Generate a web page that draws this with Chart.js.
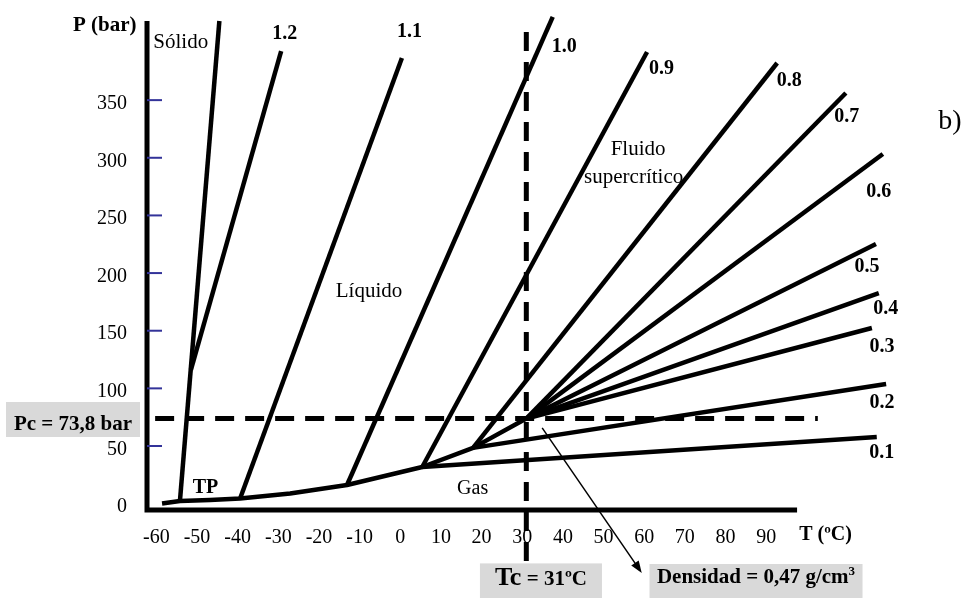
<!DOCTYPE html>
<html>
<head>
<meta charset="utf-8">
<script src="https://cdn.jsdelivr.net/npm/chart.js@4.4.1/dist/chart.umd.min.js"></script>
<style>
  html, body { margin: 0; padding: 0; background: #fff; overflow: hidden; }
  #wrap { position: relative; width: 966px; height: 598px; }
</style>
</head>
<body>
<div id="wrap"><canvas id="phaseChart"></canvas></div>
<script>
// axis ticks
const tempTicks = [-60, -50, -40, -30, -20, -10, 0, 10, 20, 30, 40, 50, 60, 70, 80, 90];
const pressureTicks = [0, 50, 100, 150, 200, 250, 300, 350];

// critical point of CO2
const tc = 31; // ºC
const pc = 73.8; // bar

// vapour pressure curve (sublimation -> triple point -> critical point)
const vapourT = [-58.6, -54.2, -46.8, -39.4, -27.1, -13.1, 5.4, 17.9, tc];
const vapourP = [0.2, 2.3, 3.2, 4.5, 8.8, 16.2, 31.8, 48.4, pc];

// melting curve
const meltT = [-54.2, -44.5];
const meltP = [2.3, 418.6];

// isochores, density in g/cm3, start and end of each line
const densities = ["1.2", "1.1", "1.0", "0.9", "0.8", "0.7", "0.6", "0.5", "0.4", "0.3", "0.2", "0.1"];
const isoFromT = [-51.5, -39.4, -13.1, 5.4, 17.9, tc, tc, tc, tc, tc, 17.9, 5.4];
const isoFromP = [116.0, 4.5, 16.2, 31.8, 48.4, pc, pc, pc, pc, pc, 48.4, 31.8];
const isoToT = [-29.3, 0.4, 37.5, 60.7, 92.7, 109.6, 118.7, 117.0, 117.7, 116.0, 119.5, 117.2];
const isoToP = [392.6, 386.6, 422.2, 391.7, 382.2, 356.2, 303.3, 225.2, 182.7, 152.4, 103.8, 57.8];

// extent of the dashed Tc / Pc guides
const tcLineP = [409, -56];
const pcLineT = [-60.3, 102.7];

// where the drawn axes stop
const xAxisEnd = 97.6;
const yAxisTop = 418.6;

// label offsets (px) from the end of each isochore
const isoLabelOffset = [[3.5, -17.5], [7.5, -26], [11.5, 30], [14.5, 17], [12, 18], [1, 24],
  [-4, 38], [-9, 23], [7, 16], [10, 19], [-4, 18.5], [5, 16]];

const SERIF = "'Liberation Serif', 'Times New Roman', serif";

const regionLabels = [
  { text: "P (bar)", t: -72.7, p: 415.0, font: "bold 21px " + SERIF },
  { text: "Sólido", t: -54.0, p: 400.4, font: "21px " + SERIF },
  { text: "Líquido", t: -7.7, p: 183.7, font: "21px " + SERIF },
  { text: "Fluido", t: 58.5, p: 307.6, font: "21px " + SERIF },
  { text: "supercrítico", t: 57.4, p: 283.2, font: "21px " + SERIF },
  { text: "Gas", t: 17.8, p: 12.7, font: "20px " + SERIF },
  { text: "TP", t: -47.9, p: 13.6, font: "bold 20px " + SERIF },
  { text: "T (ºC)", t: 104.6, p: -27.1, font: "bold 20px " + SERIF },
  { text: "b)", t: 135.2, p: 331.0, font: "28px " + SERIF },
];

// grey boxes: anchor = centre of the text baseline
const boxes = [
  { t: -80.5, p: 63.9, w: 134, up: 28, down: 7, parts: [["Pc = 73,8 bar", "bold 21px " + SERIF, 0]] },
  { t: 34.6, p: -70.9, w: 122, up: 22, down: 13, parts: [["Tc", "bold 26px " + SERIF, 0], [" = 31ºC", "bold 21px " + SERIF, 0]] },
  { t: 87.5, p: -68.8, w: 213, up: 19, down: 15, parts: [["Densidad = 0,47 g/cm", "bold 21px " + SERIF, 0], ["3", "bold 13px " + SERIF, -8]] },
];

const arrow = { fromT: 34.9, fromP: 65.7, toT: 59.4, toP: -60.1 };

function pts(ts, ps) {
  return ts.map((t, i) => ({ x: t, y: ps[i] }));
}

const solid = {
  showLine: true,
  borderColor: "#000",
  borderWidth: 4.5,
  pointRadius: 0,
  borderJoinStyle: "round",
  tension: 0,
};
const dashed = { ...solid, borderWidth: 5, borderDash: [19, 11] };

const datasets = [
  { ...solid, data: pts(vapourT, vapourP) },
  { ...solid, data: pts(meltT, meltP) },
  ...densities.map((d, i) => ({
    ...solid,
    label: d,
    data: pts([isoFromT[i], isoToT[i]], [isoFromP[i], isoToP[i]]),
  })),
  { ...dashed, data: tcLineP.map((p) => ({ x: tc, y: p })), clip: false },
  { ...dashed, data: pcLineT.map((t) => ({ x: t, y: pc })) },
];

const decor = {
  id: "decor",
  beforeDatasetsDraw(chart) {
    const ctx = chart.ctx;
    const xs = chart.scales.x;
    const ys = chart.scales.y;
    ctx.save();
    // boxes under the dashed lines
    ctx.fillStyle = "#d9d9d9";
    boxes.forEach((b) => {
      const cx = xs.getPixelForValue(b.t);
      const cy = ys.getPixelForValue(b.p);
      ctx.fillRect(cx - b.w / 2, cy - b.up, b.w, b.up + b.down);
    });
    // axes
    const x0 = xs.getPixelForValue(xs.min);
    const y0 = ys.getPixelForValue(ys.min);
    ctx.strokeStyle = "#000";
    ctx.lineWidth = 5;
    ctx.beginPath();
    ctx.moveTo(x0, ys.getPixelForValue(yAxisTop));
    ctx.lineTo(x0, y0);
    ctx.lineTo(xs.getPixelForValue(xAxisEnd), y0);
    ctx.stroke();
    // blue tick marks inside the y axis
    ctx.strokeStyle = "#333399";
    ctx.lineWidth = 2;
    pressureTicks.filter((v) => v > 0).forEach((v) => {
      const y = ys.getPixelForValue(v);
      ctx.beginPath();
      ctx.moveTo(x0, y);
      ctx.lineTo(x0 + 15, y);
      ctx.stroke();
    });
    ctx.restore();
  },
  afterDatasetsDraw(chart) {
    const ctx = chart.ctx;
    const xs = chart.scales.x;
    const ys = chart.scales.y;
    ctx.save();
    ctx.fillStyle = "#000";
    ctx.textBaseline = "middle";
    ctx.textAlign = "center";

    // isochore labels
    ctx.font = "bold 20px " + SERIF;
    densities.forEach((d, i) => {
      const x = xs.getPixelForValue(isoToT[i]) + isoLabelOffset[i][0];
      const y = ys.getPixelForValue(isoToP[i]) + isoLabelOffset[i][1];
      ctx.fillText(d, x, y);
    });

    // region and axis labels
    regionLabels.forEach((l) => {
      ctx.font = l.font;
      ctx.fillText(l.text, xs.getPixelForValue(l.t), ys.getPixelForValue(l.p));
    });

    // box texts
    ctx.textAlign = "left";
    ctx.textBaseline = "alphabetic";
    boxes.forEach((b) => {
      let total = 0;
      b.parts.forEach((part) => {
        ctx.font = part[1];
        total += ctx.measureText(part[0]).width;
      });
      let x = xs.getPixelForValue(b.t) - total / 2;
      const y = ys.getPixelForValue(b.p);
      b.parts.forEach((part) => {
        ctx.font = part[1];
        ctx.fillText(part[0], x, y + part[2]);
        x += ctx.measureText(part[0]).width;
      });
    });

    // arrow to the density box
    const ax = xs.getPixelForValue(arrow.fromT);
    const ay = ys.getPixelForValue(arrow.fromP);
    const bx = xs.getPixelForValue(arrow.toT);
    const by = ys.getPixelForValue(arrow.toP);
    const ang = Math.atan2(by - ay, bx - ax);
    ctx.strokeStyle = "#000";
    ctx.lineWidth = 1.5;
    ctx.beginPath();
    ctx.moveTo(ax, ay);
    ctx.lineTo(bx - 8 * Math.cos(ang), by - 8 * Math.sin(ang));
    ctx.stroke();
    ctx.beginPath();
    ctx.moveTo(bx, by);
    ctx.lineTo(bx - 12 * Math.cos(ang) + 4.5 * Math.sin(ang), by - 12 * Math.sin(ang) - 4.5 * Math.cos(ang));
    ctx.lineTo(bx - 12 * Math.cos(ang) - 4.5 * Math.sin(ang), by - 12 * Math.sin(ang) + 4.5 * Math.cos(ang));
    ctx.closePath();
    ctx.fill();
    ctx.restore();
  },
};

const tickFont = { family: "'Liberation Serif'", size: 20 };

new Chart(document.getElementById("phaseChart"), {
  type: "scatter",
  data: { datasets },
  options: {
    responsive: true,
    maintainAspectRatio: false,
    animation: false,
    events: [],
    layout: {
      autoPadding: false,
      padding: { top: 10.2, right: 61.6, bottom: 0, left: 0 },
    },
    plugins: {
      legend: { display: false },
      tooltip: { enabled: false },
    },
    scales: {
      x: {
        type: "linear",
        min: -62.3,
        max: 124,
        grid: { display: false, drawTicks: false },
        border: { display: false },
        ticks: {
          padding: 16,
          font: tickFont,
          color: "#000",
          autoSkip: false,
          maxRotation: 0,
          callback: (v) => String(v),
        },
        afterBuildTicks: (s) => {
          s.ticks = tempTicks.map((v) => ({ value: v }));
        },
        afterFit: (s) => {
          s.height = 88;
          s.paddingLeft = 0;
          s.paddingRight = 0;
        },
      },
      y: {
        type: "linear",
        min: -5.5,
        max: 428,
        grid: { display: false, drawTicks: false },
        border: { display: false },
        ticks: {
          padding: 20,
          labelOffset: 3.5,
          font: tickFont,
          color: "#000",
          autoSkip: false,
          callback: (v) => String(v),
        },
        afterBuildTicks: (s) => {
          s.ticks = pressureTicks.map((v) => ({ value: v }));
        },
        afterFit: (s) => {
          s.width = 147;
          s.paddingTop = 0;
          s.paddingBottom = 0;
        },
      },
    },
  },
  plugins: [decor],
});
</script>
</body>
</html>
